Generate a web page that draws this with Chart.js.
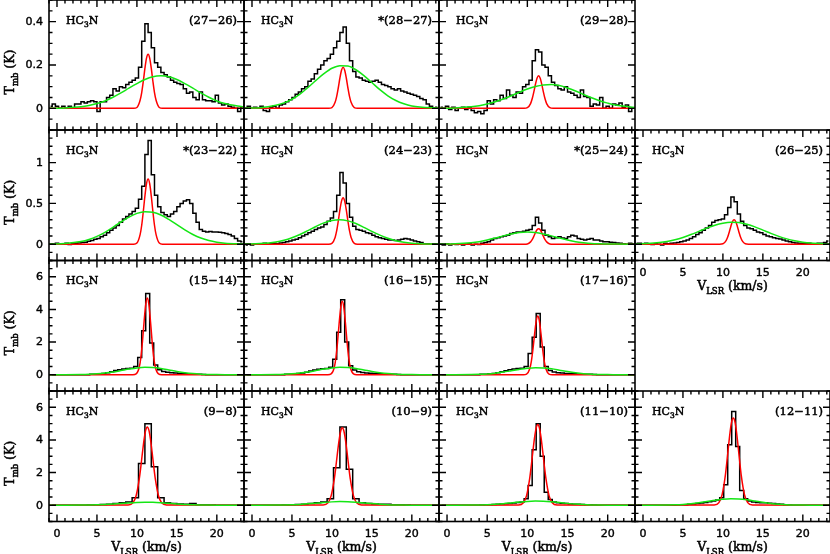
<!DOCTYPE html>
<html>
<head>
<meta charset="utf-8">
<script src="https://cdn.jsdelivr.net/npm/chart.js@4.4.1/dist/chart.umd.min.js"></script>
<style>
html, body { margin: 0; padding: 0; background: #fff; }
#fig { position: relative; width: 830px; height: 554px; overflow: hidden; }
#fig canvas { position: absolute; left: 0; top: 0; }
</style>
</head>
<body>
<div id="fig"></div>
<script>
// channel grids (centre of first channel, channel width) in km/s
const fineStart = -0.8, fineStep = 0.4
const midStart = -0.65, midStep = 0.5
const wideStart = -0.6, wideStep = 0.8

const xMin = -1, xMax = 23.4
const xTickLabels = [0, 5, 10, 15, 20]

const narrowV = [-1, 9.0, 9.6, 10.0, 10.4, 10.6, 10.8, 11.0, 11.2, 11.4, 11.6, 11.8, 12.0, 12.2, 12.4, 12.8, 13.2, 13.8, 23.4]
const narrowV34 = [-1, 8.9, 9.5, 9.9, 10.3, 10.5, 10.7, 10.9, 11.1, 11.3, 11.5, 11.7, 11.9, 12.1, 12.3, 12.7, 13.1, 13.7, 23.4]
const broadV = [-1, 1, 3, 4, 5, 6, 7, 8, 9, 10, 11, 12, 13, 14, 15, 16, 17, 18, 19, 20, 21, 23.4]

// per row: y range and tick labels
const rowMin = [-0.1, -0.2, -1, -1]
const rowMax = [0.5, 1.4, 7, 7]
const rowTicks = [[0, 0.2, 0.4], [0, 0.5, 1], [0, 2, 4, 6], [0, 2, 4, 6]]
const rowMinorStep = [0.05, 0.1, 0.5, 0.5]

// observed spectra (T_mb, K)
const spec_27_26 = [0.01, 0.02, 0.01, 0.0, 0.01, 0.0, 0.01, 0.0, 0.02, 0.02,
  0.03, 0.025, 0.03, 0.035, 0.03, -0.015, 0.03, 0.03, 0.05, 0.06,
  0.09, 0.08, 0.1, 0.095, 0.11, 0.12, 0.13, 0.14, 0.19, 0.31,
  0.39, 0.35, 0.28, 0.21, 0.19, 0.165, 0.155, 0.145, 0.13, 0.12,
  0.115, 0.11, 0.09, 0.07, 0.075, 0.05, 0.04, 0.075, 0.04, 0.035,
  0.035, 0.03, 0.06, 0.025, 0.015, 0.02, 0.01, 0.005, 0.0, -0.015, 0.005]
const spec_28_27 = [0.0, 0.01, 0.0, 0.005, 0.0, 0.01, -0.01, -0.015, 0.005, 0.01,
  0.0, 0.015, 0.02, 0.03, 0.04, 0.05, 0.065, 0.075, 0.09, 0.1,
  0.125, 0.135, 0.16, 0.18, 0.2, 0.22, 0.23, 0.25, 0.28, 0.31,
  0.35, 0.375, 0.3, 0.22, 0.17, 0.145, 0.14, 0.13, 0.125, 0.12,
  0.125, 0.13, 0.12, 0.11, 0.105, 0.1, 0.09, 0.085, 0.09, 0.08,
  0.075, 0.07, 0.065, 0.06, 0.055, 0.045, 0.04, 0.02, 0.01, 0.0, 0.005]
const spec_29_28 = [0.005, 0.0, 0.01, -0.005, 0.005, -0.01, 0.0, 0.005, -0.005, 0.005,
  -0.01, -0.02, -0.015, -0.025, -0.01, 0.035, 0.02, 0.04, 0.035, 0.06,
  0.045, 0.085, 0.06, 0.05, 0.075, 0.07, 0.1, 0.11, 0.13, 0.22,
  0.27, 0.26, 0.2, 0.19, 0.15, 0.12, 0.105, 0.09, 0.085, 0.1,
  0.075, 0.07, 0.06, 0.05, 0.085, 0.055, 0.05, 0.01, 0.02, 0.015,
  0.05, 0.0, 0.01, 0.0, 0.02, 0.015, 0.025, 0.005, 0.015, -0.015, 0.0]
const spec_23_22 = [0.005, 0.0, 0.01, 0.005, 0.0, 0.01, -0.005, 0.005, 0.01, 0.015,
  0.02, 0.025, 0.035, 0.045, 0.06, 0.07, 0.09, 0.11, 0.14, 0.17,
  0.2, 0.23, 0.27, 0.31, 0.34, 0.37, 0.4, 0.44, 0.55, 0.71,
  1.1, 1.27, 0.85, 0.6, 0.46, 0.39, 0.36, 0.34, 0.37, 0.4,
  0.46, 0.5, 0.53, 0.545, 0.5, 0.38, 0.27, 0.18, 0.16, 0.15,
  0.155, 0.15, 0.15, 0.145, 0.14, 0.13, 0.12, 0.1, 0.07, 0.04, 0.03]
const spec_24_23 = [-0.01, 0.0, -0.01, 0.0, 0.005, 0.0, 0.01, 0.0, 0.005, 0.01,
  0.005, 0.015, 0.02, 0.03, 0.04, 0.05, 0.06, 0.08, 0.1, 0.12,
  0.14, 0.16, 0.18, 0.2, 0.21, 0.24, 0.28, 0.32, 0.4, 0.6,
  0.88, 0.75, 0.5, 0.33, 0.22, 0.18, 0.17, 0.16, 0.14, 0.13,
  0.11, 0.09, 0.08, 0.07, 0.06, 0.05, 0.05, 0.045, 0.05, 0.06,
  0.07, 0.065, 0.05, 0.04, 0.03, 0.02, 0.005, 0.005, 0.0, 0.005, 0.0]
const spec_25_24 = [0.0, -0.01, 0.005, -0.01, 0.0, -0.005, 0.0, -0.01, 0.0, 0.005,
  -0.01, 0.0, -0.005, 0.01, 0.02, 0.03, 0.05, 0.07, 0.08, 0.09,
  0.1, 0.11, 0.13, 0.14, 0.15, 0.15, 0.16, 0.17, 0.18, 0.23,
  0.33, 0.26, 0.17, 0.11, 0.09, 0.07, 0.08, 0.09, 0.075, 0.07,
  0.09, 0.11, 0.1, 0.07, 0.06, 0.05, 0.06, 0.07, 0.05, 0.05,
  0.04, 0.03, 0.03, 0.025, 0.02, 0.015, 0.01, 0.005, 0.0, 0.01, 0.005]
const spec_26_25 = [0.01, 0.01, 0.0, 0.01, 0.005, -0.005, 0.005, 0.0, -0.01, 0.01,
  0.005, 0.01, 0.015, 0.02, 0.03, 0.04, 0.05, 0.07, 0.09, 0.12,
  0.14, 0.17, 0.2, 0.23, 0.27, 0.29, 0.3, 0.31, 0.36, 0.45,
  0.58, 0.52, 0.37, 0.28, 0.23, 0.2, 0.19, 0.17, 0.15, 0.14,
  0.12, 0.1, 0.09, 0.08, 0.07, 0.065, 0.05, 0.04, 0.03, 0.02,
  0.015, 0.01, 0.005, 0.005, 0.01, 0.0, 0.005, 0.01, 0.01, 0.02, 0.04]
const spec_15_14 = [0, 0, 0, 0, 0, 0, 0, 0, 0, 0,
  0.02, 0.03, 0.05, 0.08, 0.12, 0.18, 0.25, 0.3, 0.35, 0.38,
  0.4, 0.5, 1.05, 2.7, 4.97, 1.95, 0.6, 0.3, 0.2, 0.15,
  0.12, 0.1, 0.08, 0.07, 0.05, 0.04, 0.03, 0.02, 0.01,
  0, 0, 0, 0, 0, 0, 0, 0, 0, 0]
const spec_16_15 = [0, 0, 0, 0, 0, 0, 0, 0, 0, 0,
  0.02, 0.03, 0.04, 0.07, 0.1, 0.15, 0.22, 0.28, 0.33, 0.36,
  0.38, 0.45, 0.95, 2.6, 4.6, 2.0, 0.55, 0.28, 0.18, 0.14,
  0.11, 0.09, 0.07, 0.06, 0.05, 0.04, 0.03, 0.02, 0.01,
  0, 0, 0, 0, 0, 0, 0, 0, 0, 0]
const spec_17_16 = [0, 0, 0, 0, 0, 0, 0, 0, 0, 0,
  0.02, 0.03, 0.05, 0.08, 0.12, 0.18, 0.24, 0.3, 0.35, 0.38,
  0.4, 0.5, 1.3, 2.3, 3.75, 1.7, 0.5, 0.25, 0.16, 0.12,
  0.1, 0.08, 0.07, 0.05, 0.04, 0.03, 0.02, 0.02, 0.01,
  0, 0, 0, 0, 0, 0, 0, 0, 0, 0]
const spec_9_8 = [0, 0, 0, 0, 0, 0, 0.01, 0.02, 0.04, 0.06,
  0.1, 0.15, 0.2, 0.45, 2.55, 5.0, 2.35, 0.45, 0.15, 0.1,
  0.08, 0.06, 0.1, 0.03, 0.02, 0.01, 0, 0, 0, 0, 0]
const spec_10_9 = [0, 0, 0, 0, 0, 0, 0.01, 0.02, 0.04, 0.06,
  0.1, 0.15, 0.2, 0.4, 2.3, 4.8, 2.2, 0.4, 0.15, 0.1,
  0.08, 0.06, 0.05, 0.03, 0.02, 0.01, 0, 0, 0, 0, 0]
const spec_11_10 = [0, 0, 0, 0, 0, 0, 0, 0, 0, 0,
  0.01, 0.02, 0.03, 0.04, 0.05, 0.07, 0.09, 0.11, 0.13, 0.16,
  0.2, 0.4, 1.2, 3.4, 5.0, 3.0, 0.8, 0.35, 0.2, 0.15,
  0.12, 0.1, 0.08, 0.06, 0.05, 0.04, 0.03, 0.02, 0.01,
  0, 0, 0, 0, 0, 0, 0, 0, 0, 0]
const spec_12_11 = [0, 0, 0, 0, 0, 0, 0, 0, 0, 0,
  0.01, 0.02, 0.03, 0.05, 0.07, 0.1, 0.13, 0.17, 0.21, 0.26,
  0.32, 0.45, 1.25, 3.7, 5.75, 3.6, 0.9, 0.4, 0.25, 0.2,
  0.17, 0.15, 0.15, 0.12, 0.1, 0.07, 0.05, 0.03, 0.01,
  0, 0, 0, 0, 0, 0, 0, 0, 0, 0]

// narrow fitted component (red)
const red_27_26 = [0, 0, 0, 0.004, 0.037, 0.073, 0.125, 0.184, 0.232, 0.25, 0.232, 0.184, 0.125, 0.073, 0.037, 0.004, 0, 0, 0]
const red_28_27 = [0, 0, 0, 0.003, 0.028, 0.055, 0.095, 0.14, 0.176, 0.19, 0.176, 0.14, 0.095, 0.055, 0.028, 0.003, 0, 0, 0]
const red_29_28 = [0, 0, 0, 0.003, 0.022, 0.044, 0.075, 0.11, 0.139, 0.15, 0.139, 0.11, 0.075, 0.044, 0.022, 0.003, 0, 0, 0]
const red_23_22 = [0, 0, 0, 0.014, 0.117, 0.232, 0.4, 0.589, 0.741, 0.8, 0.741, 0.589, 0.4, 0.232, 0.117, 0.014, 0, 0, 0]
const red_24_23 = [0, 0, 0, 0.01, 0.083, 0.165, 0.285, 0.42, 0.528, 0.57, 0.528, 0.42, 0.285, 0.165, 0.083, 0.01, 0, 0, 0]
const red_25_24 = [0, 0, 0, 0.003, 0.028, 0.055, 0.095, 0.14, 0.176, 0.19, 0.176, 0.14, 0.095, 0.055, 0.028, 0.003, 0, 0, 0]
const red_26_25 = [0, 0, 0, 0.005, 0.044, 0.087, 0.15, 0.221, 0.278, 0.3, 0.278, 0.221, 0.15, 0.087, 0.044, 0.005, 0, 0, 0]
const red_15_14 = [0, 0, 0, 0.05, 0.47, 1.08, 2.06, 3.26, 4.29, 4.7, 4.29, 3.26, 2.06, 1.08, 0.47, 0.05, 0, 0, 0]
const red_16_15 = [0, 0, 0, 0.05, 0.45, 1.04, 1.97, 3.12, 4.1, 4.5, 4.1, 3.12, 1.97, 1.04, 0.45, 0.05, 0, 0, 0]
const red_17_16 = [0, 0, 0, 0.04, 0.36, 0.83, 1.58, 2.49, 3.28, 3.6, 3.28, 2.49, 1.58, 0.83, 0.36, 0.04, 0, 0, 0]
const red_9_8 = [0, 0.01, 0.14, 0.58, 1.63, 2.4, 3.25, 4.04, 4.6, 4.8, 4.6, 4.04, 3.25, 2.4, 1.63, 0.58, 0.14, 0.01, 0]
const red_10_9 = [0, 0.01, 0.14, 0.57, 1.61, 2.38, 3.22, 3.99, 4.55, 4.75, 4.55, 3.99, 3.22, 2.38, 1.61, 0.57, 0.14, 0.01, 0]
const red_11_10 = [0, 0.01, 0.15, 0.59, 1.68, 2.48, 3.35, 4.16, 4.74, 4.95, 4.74, 4.16, 3.35, 2.48, 1.68, 0.59, 0.15, 0.01, 0]
const red_12_11 = [0, 0.01, 0.16, 0.64, 1.81, 2.68, 3.62, 4.5, 5.13, 5.35, 5.13, 4.5, 3.62, 2.68, 1.81, 0.64, 0.16, 0.01, 0]

// broad fitted component (green)
const green_27_26 = [0.0004, 0.002, 0.007, 0.013, 0.022, 0.034, 0.051, 0.071, 0.093, 0.114, 0.133, 0.146, 0.15, 0.146, 0.133, 0.114, 0.093, 0.071, 0.051, 0.034, 0.022, 0.006]
const green_28_27 = [0.001, 0.003, 0.014, 0.025, 0.042, 0.066, 0.096, 0.129, 0.16, 0.185, 0.197, 0.195, 0.178, 0.151, 0.119, 0.086, 0.058, 0.036, 0.021, 0.011, 0.006, 0.001]
const green_29_28 = [0.0005, 0.002, 0.007, 0.012, 0.02, 0.03, 0.043, 0.058, 0.074, 0.089, 0.101, 0.108, 0.11, 0.105, 0.094, 0.08, 0.064, 0.049, 0.035, 0.024, 0.015, 0.004]
const green_23_22 = [0.002, 0.009, 0.033, 0.058, 0.096, 0.146, 0.206, 0.272, 0.332, 0.378, 0.399, 0.392, 0.358, 0.303, 0.239, 0.175, 0.119, 0.075, 0.044, 0.024, 0.012, 0.002]
const green_24_23 = [0.001, 0.007, 0.027, 0.048, 0.079, 0.119, 0.167, 0.217, 0.261, 0.291, 0.3, 0.286, 0.253, 0.207, 0.157, 0.111, 0.072, 0.043, 0.024, 0.012, 0.006, 0.001]
const green_25_24 = [0.001, 0.005, 0.018, 0.031, 0.051, 0.075, 0.102, 0.126, 0.144, 0.15, 0.144, 0.126, 0.102, 0.075, 0.051, 0.031, 0.018, 0.009, 0.005, 0.002, 0.001, 0]
const green_26_25 = [0.003, 0.011, 0.034, 0.055, 0.083, 0.118, 0.157, 0.197, 0.233, 0.258, 0.27, 0.265, 0.244, 0.212, 0.173, 0.133, 0.096, 0.065, 0.042, 0.025, 0.014, 0.003]
const green_15_14 = [0, 0.001, 0.01, 0.024, 0.051, 0.098, 0.166, 0.252, 0.342, 0.415, 0.45, 0.434, 0.375, 0.289, 0.199, 0.123, 0.067, 0.033, 0.014, 0.006, 0.002, 0]
const green_16_15 = [0, 0.001, 0.01, 0.024, 0.051, 0.098, 0.166, 0.252, 0.342, 0.415, 0.45, 0.434, 0.375, 0.289, 0.199, 0.123, 0.067, 0.033, 0.014, 0.006, 0.002, 0]
const green_17_16 = [0, 0.001, 0.01, 0.023, 0.049, 0.093, 0.158, 0.24, 0.325, 0.394, 0.43, 0.414, 0.358, 0.276, 0.19, 0.117, 0.064, 0.031, 0.014, 0.005, 0.002, 0]
const green_9_8 = [0, 0, 0.004, 0.01, 0.021, 0.039, 0.066, 0.1, 0.137, 0.166, 0.18, 0.174, 0.15, 0.116, 0.08, 0.049, 0.027, 0.013, 0.006, 0.002, 0.001, 0]
const green_10_9 = [0, 0, 0.005, 0.012, 0.025, 0.048, 0.081, 0.123, 0.167, 0.203, 0.22, 0.212, 0.183, 0.141, 0.097, 0.06, 0.033, 0.016, 0.007, 0.003, 0.001, 0]
const green_11_10 = [0, 0.001, 0.006, 0.013, 0.029, 0.054, 0.092, 0.14, 0.19, 0.231, 0.25, 0.241, 0.208, 0.161, 0.111, 0.068, 0.037, 0.018, 0.008, 0.003, 0.001, 0]
const green_12_11 = [0, 0.001, 0.009, 0.021, 0.046, 0.087, 0.148, 0.224, 0.304, 0.369, 0.4, 0.386, 0.333, 0.257, 0.177, 0.109, 0.06, 0.029, 0.013, 0.005, 0.002, 0]

const panels = [
  { label: '(27−26)', row: 0, col: 0, spec: spec_27_26, start: fineStart, step: fineStep, red: red_27_26, redV: narrowV, green: green_27_26 },
  { label: '*(28−27)', row: 0, col: 1, spec: spec_28_27, start: fineStart, step: fineStep, red: red_28_27, redV: narrowV, green: green_28_27 },
  { label: '(29−28)', row: 0, col: 2, spec: spec_29_28, start: fineStart, step: fineStep, red: red_29_28, redV: narrowV, green: green_29_28 },
  { label: '*(23−22)', row: 1, col: 0, spec: spec_23_22, start: fineStart, step: fineStep, red: red_23_22, redV: narrowV, green: green_23_22 },
  { label: '(24−23)', row: 1, col: 1, spec: spec_24_23, start: fineStart, step: fineStep, red: red_24_23, redV: narrowV, green: green_24_23 },
  { label: '*(25−24)', row: 1, col: 2, spec: spec_25_24, start: fineStart, step: fineStep, red: red_25_24, redV: narrowV, green: green_25_24 },
  { label: '(26−25)', row: 1, col: 3, spec: spec_26_25, start: fineStart, step: fineStep, red: red_26_25, redV: narrowV, green: green_26_25, xAxis: true },
  { label: '(15−14)', row: 2, col: 0, spec: spec_15_14, start: midStart, step: midStep, red: red_15_14, redV: narrowV34, green: green_15_14 },
  { label: '(16−15)', row: 2, col: 1, spec: spec_16_15, start: midStart, step: midStep, red: red_16_15, redV: narrowV34, green: green_16_15 },
  { label: '(17−16)', row: 2, col: 2, spec: spec_17_16, start: midStart, step: midStep, red: red_17_16, redV: narrowV34, green: green_17_16 },
  { label: '(9−8)', row: 3, col: 0, spec: spec_9_8, start: wideStart, step: wideStep, red: red_9_8, redV: narrowV34, green: green_9_8, xAxis: true },
  { label: '(10−9)', row: 3, col: 1, spec: spec_10_9, start: wideStart, step: wideStep, red: red_10_9, redV: narrowV34, green: green_10_9, xAxis: true },
  { label: '(11−10)', row: 3, col: 2, spec: spec_11_10, start: midStart, step: midStep, red: red_11_10, redV: narrowV34, green: green_11_10, xAxis: true },
  { label: '(12−11)', row: 3, col: 3, spec: spec_12_11, start: midStart, step: midStep, red: red_12_11, redV: narrowV34, green: green_12_11, xAxis: true },
]

const W = 830, H = 554
const colLeft = [49, 244, 439, 635], colRight = [244, 439, 635, 830]
const rowTop = [0, 130, 260.5, 391], rowBottom = [130, 260.5, 391, 521.5]

const serif = "'DejaVu Serif', serif"
const sans = "'DejaVu Sans', sans-serif"

// text with subscripts; a thin outline makes it as heavy as the plotter font
function drawRich(ctx, parts, x, y, align, size, family) {
  let w = 0
  parts.forEach(([t, sub]) => {
    ctx.font = (sub ? size * 0.68 : size) + 'px ' + family
    w += ctx.measureText(t).width
  })
  let cx = align === 'center' ? x - w / 2 : align === 'right' ? x - w : x
  ctx.textAlign = 'left'
  ctx.textBaseline = 'alphabetic'
  ctx.lineWidth = 0.5
  parts.forEach(([t, sub]) => {
    ctx.font = (sub ? size * 0.68 : size) + 'px ' + family
    const ty = sub ? y + size * 0.3 : y
    ctx.fillText(t, cx, ty)
    ctx.strokeText(t, cx, ty)
    cx += ctx.measureText(t).width
  })
}

function drawNum(ctx, s, x, y) {
  ctx.lineWidth = 0.4
  ctx.fillText(s, x, y)
  ctx.strokeText(s, x, y)
}

const frame = {
  id: 'frame',
  afterDraw(chart, args, opts) {
    const p = opts.panel
    const ctx = chart.ctx
    const a = chart.chartArea
    const xs = chart.scales.x, ys = chart.scales.y
    ctx.save()
    ctx.strokeStyle = '#000'
    ctx.fillStyle = '#000'
    ctx.lineWidth = 1.4
    ctx.beginPath()
    for (let v = Math.ceil(xs.min); v <= xs.max; v++) {
      const px = xs.getPixelForValue(v)
      const len = xTickLabels.includes(v) ? 7 : 3.5
      ctx.moveTo(px, a.bottom); ctx.lineTo(px, a.bottom - len)
      ctx.moveTo(px, a.top); ctx.lineTo(px, a.top + len)
    }
    const st = rowMinorStep[p.row]
    const majors = rowTicks[p.row]
    for (let k = Math.ceil(ys.min / st - 1e-6); k * st <= ys.max + 1e-6; k++) {
      const v = k * st
      const py = ys.getPixelForValue(v)
      const len = majors.some(m => Math.abs(m - v) < 1e-6) ? 7 : 3.5
      ctx.moveTo(a.left, py); ctx.lineTo(a.left + len, py)
      ctx.moveTo(a.right, py); ctx.lineTo(a.right - len, py)
    }
    ctx.stroke()
    ctx.lineWidth = 1.6
    ctx.strokeRect(a.left, a.top, a.right - a.left, a.bottom - a.top)

    drawRich(ctx, [['HC', 0], ['3', 1], ['N', 0]], a.left + 17, a.top + 23.5, 'left', 11, serif)
    drawRich(ctx, [[p.label, 0]], a.right - 7, a.top + 23.5, 'right', 11.5, serif)

    if (p.col === 0) {
      ctx.font = '11px ' + sans
      ctx.textAlign = 'right'
      ctx.textBaseline = 'middle'
      majors.forEach(v => drawNum(ctx, String(v), a.left - 6, ys.getPixelForValue(v) + 0.5))
      ctx.save()
      ctx.translate(14, (a.top + a.bottom) / 2 + 7)
      ctx.rotate(-Math.PI / 2)
      drawRich(ctx, [['T', 0], ['mb', 1], [' (K)', 0]], 0, 0, 'center', 12.5, serif)
      ctx.restore()
    }
    if (p.xAxis) {
      ctx.font = '11px ' + sans
      ctx.textAlign = 'center'
      ctx.textBaseline = 'middle'
      xTickLabels.forEach(v => drawNum(ctx, String(v), xs.getPixelForValue(v), a.bottom + 12.5))
      drawRich(ctx, [['V', 0], ['LSR', 1], [' (km/s)', 0]], (a.left + a.right) / 2, a.bottom + 29.5, 'center', 12.5, serif)
    }
    ctx.restore()
  }
}

const fig = document.getElementById('fig')
panels.forEach(p => {
  const cv = document.createElement('canvas')
  cv.width = W
  cv.height = H
  fig.appendChild(cv)
  const x0 = colLeft[p.col], x1 = colRight[p.col]
  const y0 = rowTop[p.row], y1 = rowBottom[p.row]
  new Chart(cv, {
    type: 'line',
    data: {
      datasets: [
        {
          data: p.green.map((y, i) => ({ x: broadV[i], y })),
          borderColor: '#14e614', borderWidth: 1.5, pointRadius: 0,
          cubicInterpolationMode: 'monotone', order: 0,
        },
        {
          data: p.red.map((y, i) => ({ x: p.redV[i], y })),
          borderColor: '#ff0000', borderWidth: 1.5, pointRadius: 0,
          cubicInterpolationMode: 'monotone', order: 1,
        },
        {
          data: p.spec.map((y, i) => ({ x: p.start + i * p.step, y })),
          borderColor: '#000', borderWidth: 1.5, pointRadius: 0,
          stepped: 'middle', order: 2,
        },
      ]
    },
    options: {
      responsive: false,
      animation: false,
      devicePixelRatio: 1,
      events: [],
      layout: { padding: { left: x0, top: y0, right: W - x1, bottom: H - y1 } },
      plugins: { legend: { display: false }, tooltip: { enabled: false }, frame: { panel: p } },
      scales: {
        x: { type: 'linear', min: xMin, max: xMax, display: false },
        y: { type: 'linear', min: rowMin[p.row], max: rowMax[p.row], display: false },
      }
    },
    plugins: [frame]
  })
})
</script>
</body>
</html>
